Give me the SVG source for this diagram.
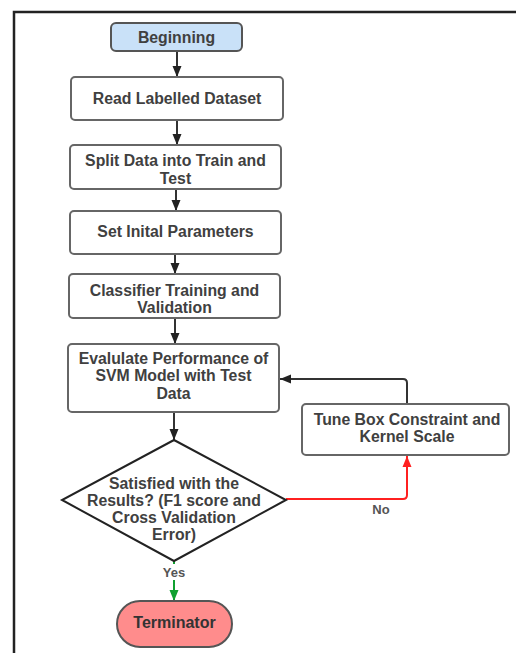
<svg xmlns="http://www.w3.org/2000/svg" width="516" height="653" viewBox="0 0 516 653">
<style>
.box{fill:#fff;stroke:#666;stroke-width:2}
.t{font-family:"Liberation Sans",Arial,sans-serif;font-weight:bold;font-size:15.8px;fill:#404040;text-anchor:middle}
.c{fill:none;stroke:#333;stroke-width:2}
</style>
<defs>
<marker id="ah" markerUnits="userSpaceOnUse" markerWidth="12" markerHeight="12" viewBox="0 0 12 12" refX="11" refY="6" orient="auto"><path d="M0,1.5 L11,6 L0,10.5 Z" fill="#222"/></marker>
<marker id="ahr" markerUnits="userSpaceOnUse" markerWidth="12" markerHeight="12" viewBox="0 0 12 12" refX="11" refY="6" orient="auto"><path d="M0,1.5 L11,6 L0,10.5 Z" fill="#ff2020"/></marker>
<marker id="ahg" markerUnits="userSpaceOnUse" markerWidth="12" markerHeight="12" viewBox="0 0 12 12" refX="11" refY="6" orient="auto"><path d="M0,1.5 L11,6 L0,10.5 Z" fill="#10a030"/></marker>
</defs>
<rect width="516" height="653" fill="#fff"/>
<path d="M14,653 V12 H516" fill="none" stroke="#222" stroke-width="2.5"/>
<g id="connectors">
<path class="c" d="M177,51 V77" marker-end="url(#ah)"/>
<path class="c" d="M177,120 V145" marker-end="url(#ah)"/>
<path class="c" d="M176,189 V211" marker-end="url(#ah)"/>
<path class="c" d="M175,254 V274" marker-end="url(#ah)"/>
<path class="c" d="M175,318 V344" marker-end="url(#ah)"/>
<path class="c" d="M174,412 V440" marker-end="url(#ah)"/>
<path class="c" d="M407,403 V383 Q407,379 403,379 H280" marker-end="url(#ah)"/>
<path fill="none" stroke="#ff2020" stroke-width="2" d="M286,499 H403 Q407,499 407,495 V456" marker-end="url(#ahr)"/>
<path fill="none" stroke="#10a030" stroke-width="2" d="M174,561 V601" marker-end="url(#ahg)"/>
<rect x="160" y="564" width="28" height="16" fill="#fff"/>
<text class="t" x="174" y="577" style="font-size:13px;fill:#555">Yes</text>
<text class="t" x="381" y="514" style="font-size:13px;fill:#555">No</text>
</g>
<g id="beginning">
<rect x="111" y="23" width="131" height="28" rx="5" fill="#c9e1f8" stroke="#555" stroke-width="2"/>
<text class="t" x="176.5" y="42.5">Beginning</text>
</g>
<g id="read">
<rect class="box" x="71" y="77" width="212" height="43" rx="4"/>
<text class="t" x="177" y="103.5">Read Labelled Dataset</text>
</g>
<g id="split">
<rect class="box" x="70" y="145" width="211" height="44" rx="4"/>
<text class="t" x="175.5" y="166">Split Data into Train and</text>
<text class="t" x="175.5" y="183.5">Test</text>
</g>
<g id="params">
<rect class="box" x="70" y="211" width="211" height="43" rx="4"/>
<text class="t" x="175.5" y="236.5">Set Inital Parameters</text>
</g>
<g id="classifier">
<rect class="box" x="69" y="274" width="211" height="44" rx="4"/>
<text class="t" x="174.5" y="295.5">Classifier Training and</text>
<text class="t" x="174.5" y="312.5">Validation</text>
</g>
<g id="evaluate">
<rect class="box" x="68" y="344" width="211" height="68" rx="4"/>
<text class="t" x="173.5" y="363.5">Evalulate Performance of</text>
<text class="t" x="173.5" y="381">SVM Model with Test</text>
<text class="t" x="173.5" y="398.5">Data</text>
</g>
<g id="tune">
<rect class="box" x="302" y="404" width="207" height="51" rx="4"/>
<text class="t" x="407" y="424.5">Tune Box Constraint and</text>
<text class="t" x="407" y="442">Kernel Scale</text>
</g>
<g id="decision">
<path d="M174,440 L286,500 L174,561 L62,500 Z" fill="#fff" stroke="#222" stroke-width="2"/>
<text class="t" x="174" y="488.5">Satisfied with the</text>
<text class="t" x="174" y="505.5">Results? (F1 score and</text>
<text class="t" x="174" y="522.5">Cross Validation</text>
<text class="t" x="174" y="540">Error)</text>
</g>
<g id="terminator">
<rect x="117" y="601" width="115" height="46" rx="23" fill="#ff8c8c" stroke="#555" stroke-width="2"/>
<text class="t" x="174.5" y="628" style="font-size:16px;fill:#333">Terminator</text>
</g>
</svg>
